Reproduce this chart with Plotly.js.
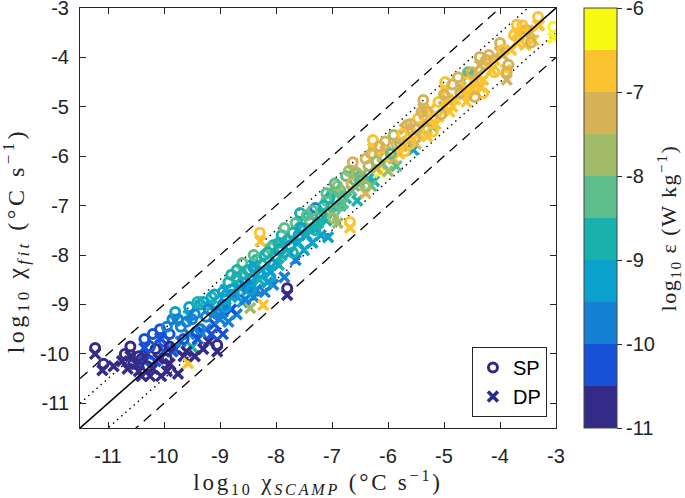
<!DOCTYPE html>
<html>
<head>
<meta charset="utf-8">
<script src="https://cdn.plot.ly/plotly-3.0.1.min.js"></script>
<style>html,body{margin:0;padding:0;background:#fff;}#chart{width:685px;height:498px;}</style>
</head>
<body>
<div id="chart"></div>
<script>
// ---- data ----
// SP : circles  (x = log10 chi_SCAMP, y = log10 chi_fit, e = log10 epsilon)
var spX = [-11.23,-11.08,-10.7,-10.6,-10.45,-10.35,-10.3,-10.15,-10.07,-10.0,-9.95,
  -9.85,-9.8,-9.7,-9.65,-9.55,-9.5,-9.42,-9.35,-9.25,-9.15,-9.05,-9.0,-8.95,
  -8.85,-8.75,-8.65,-8.6,-8.5,-8.45,-8.35,-8.29,-8.2,-8.15,-8.05,-8.0,-7.8,
  -7.9,-7.8,-7.65,-7.57,-7.5,-7.4,-7.3,-7.2,-7.1,-7.0,-6.95,-6.85,-6.68,-6.98,
  -6.75,-6.65,-6.63,-6.45,-6.35,-6.3,-6.27,-6.05,-5.9,-6.1,-5.95,
  -5.66,-5.46,-5.37,-4.98,-4.71,-4.57,-4.36,-4.0,-3.7,-3.52,-3.32,-3.05,-3.88,-4.41,-4.3,-5.2,-5.52,-5.79,
  -10.2,-9.9,-9.6,-9.3,-9.2,-8.9,-8.8,-8.7,-8.55,-8.4,-8.25,-8.1,-7.95,-7.7,-7.55,-7.35,-7.15,-7.05,-6.9,
  -6.55,-6.4,-5.75,-5.6,-5.3,-5.1,-4.85,-4.6,-4.2,-4.1,-3.75,
  -10.55,-10.25,-9.95,-9.75,-9.45,-9.4,-9.1,-9.05,-8.95,-8.8,-8.7,-8.6,-8.5,-8.4,-8.3,-8.15,-8.05,-7.95,
  -7.85,-7.75,-7.6,-7.45,-7.25,-7.1,-6.95,-6.8,-6.7,-6.5,-6.2,-6.15,-5.85,-5.7,-5.5,-5.4,-5.2,-5.0,-4.9,
  -4.75,-4.5,-4.4,-4.25,-3.95,-3.85,-3.6,-3.45,
  -10.4,-9.9,-9.35,-8.9,-8.45,-8.1,-7.7,-7.3,-6.85,-6.4,-5.6,-5.05,-4.55,-4.45];
var spY = [-9.88,-10.2,-10.0,-9.85,-10.05,-9.7,-10.25,-9.9,-9.5,-9.75,-10.1,
  -9.3,-9.15,-9.45,-9.7,-9.05,-9.3,-9.55,-9.0,-9.25,-8.85,-9.82,-9.1,-8.75,
  -8.55,-8.8,-8.6,-8.16,-8.3,-8.5,-8.1,-7.55,-8.0,-8.3,-7.8,-8.05,-8.67,
  -7.6,-7.7,-7.35,-7.15,-7.5,-7.3,-7.05,-7.2,-6.9,-6.75,-7.1,-6.7,-7.33,-7.25,
  -6.4,-6.55,-6.12,-6.45,-6.2,-5.95,-5.67,-5.7,-5.57,-6.0,-5.95,
  -5.37,-5.23,-4.86,-4.5,-4.72,-4.3,-3.99,-3.71,-3.34,-3.45,-3.18,-3.38,-4.3,-4.6,-4.72,-5.5,-5.63,-5.73,
  -9.6,-9.6,-9.35,-8.95,-9.1,-8.9,-8.4,-8.45,-8.55,-8.25,-8.2,-7.85,-7.9,-7.55,-7.45,-7.1,-7.0,-6.85,-6.6,
  -6.35,-6.05,-5.55,-5.35,-5.1,-4.9,-4.55,-4.5,-3.95,-4.3,-3.55,
  -10.2,-9.85,-9.45,-9.3,-9.2,-8.95,-8.8,-9.2,-9.0,-8.7,-8.3,-8.4,-8.65,-8.0,-8.35,-7.95,-8.2,-7.75,
  -7.45,-7.8,-7.6,-7.2,-7.35,-6.75,-6.55,-6.8,-6.3,-6.5,-6.1,-5.8,-5.75,-5.9,-5.45,-5.1,-5.25,-4.75,-4.95,
  -4.4,-4.3,-4.5,-4.05,-3.85,-4.15,-3.35,-3.7,
  -10.1,-9.85,-9.5,-9.05,-8.7,-8.45,-7.95,-7.5,-7.0,-6.6,-5.75,-5.15,-4.7,-4.8];
var spE = [-10.9,-10.9,-10.8,-10.8,-10.8,-10.3,-10.8,-10.8,-10.2,-10.3,-10.8,
  -9.8,-9.3,-9.8,-10.3,-9.2,-9.6,-10.2,-9.1,-9.6,-9.0,-10.9,-9.6,-9.1,
  -8.8,-9.4,-9.2,-8.2,-8.9,-9.2,-8.9,-6.8,-8.7,-9.3,-8.9,-9.0,-10.9,
  -8.6,-8.9,-8.3,-8.8,-9.0,-8.2,-9.7,-8.8,-8.2,-8.1,-8.5,-8.2,-6.8,-7.7,
  -8.2,-7.5,-7.2,-8.1,-7.9,-7.4,-6.8,-7.3,-7.6,-7.0,-8.2,
  -7.3,-6.8,-7.3,-6.8,-7.3,-8.1,-7.3,-7.3,-6.8,-7.3,-6.8,-6.2,-7.3,-6.8,-6.8,-6.8,-7.3,-7.7,
  -10.2,-10.3,-9.8,-9.3,-9.6,-9.4,-8.9,-8.7,-9.6,-9.3,-8.9,-8.2,-9.3,-8.8,-9.4,-8.3,-8.8,-8.7,-7.6,
  -8.0,-7.3,-6.8,-7.3,-7.2,-6.8,-7.3,-6.8,-7.3,-6.9,-6.8,
  -10.8,-10.3,-9.8,-9.6,-9.6,-9.0,-9.1,-9.7,-9.6,-9.2,-8.7,-9.0,-9.6,-8.3,-9.3,-8.8,-9.4,-8.7,
  -8.2,-9.3,-9.2,-8.5,-8.9,-8.2,-8.1,-8.5,-7.7,-8.3,-7.9,-7.2,-7.2,-7.0,-7.3,-7.3,-7.0,-7.3,-6.9,
  -7.3,-7.3,-6.8,-7.3,-6.8,-7.3,-6.8,-7.3,
  -10.8,-10.8,-9.7,-9.3,-9.3,-9.5,-9.0,-8.6,-8.3,-7.8,-6.9,-7.3,-6.8,-7.3];

// DP : crosses
var dpX = [-11.23,-11.1,-10.75,-10.65,-10.5,-10.4,-10.3,-10.2,-10.15,-10.05,-10.0,-9.9,-9.8,-9.75,-9.65,
  -9.57,-9.5,-9.45,-9.4,-9.3,-9.25,-9.2,-9.1,-9.05,-9.0,-8.95,
  -8.9,-8.85,-8.8,-8.7,-8.6,-8.46,-8.5,-8.4,-8.3,-8.23,-8.2,-8.1,-8.05,-7.95,-7.8,-7.85,
  -7.75,-7.65,-7.6,-7.5,-7.45,-7.35,-7.3,-7.2,-7.1,-7.07,-7.0,-6.9,-6.85,-6.68,-6.75,
  -6.65,-6.55,-6.5,-6.4,-6.35,-6.25,-6.14,-6.1,-6.0,-5.95,-5.85,-5.55,
  -5.75,-5.6,-5.5,-5.4,-5.3,-5.2,-5.1,-5.0,-4.9,
  -4.8,-4.7,-4.6,-4.57,-4.5,-4.4,-4.3,-4.2,-4.1,-3.88,-3.95,-3.8,-3.65,-3.55,-3.45,-3.3,-3.05,
  -10.9,-10.6,-10.45,-10.35,-10.25,-10.1,-9.95,-9.85,-9.7,-9.6,-9.55,-9.35,-9.15,-9.1,-8.95,-8.8,-8.75,
  -8.65,-8.55,-8.45,-8.35,-8.25,-8.15,-8.0,-7.9,-7.7,-7.55,-7.4,-7.25,-7.15,-6.95,-6.8,-6.6,-6.45,-6.3,
  -6.2,-5.9,-5.8,-5.65,-5.45,-5.35,-5.15,-4.95,-4.85,-4.65,-4.45,-4.35,-4.15,-4.0,-3.9,-3.7,-3.5,-3.4,
  -8.28,-10.35,-9.8,-8.6,-7.57,-6.63,-6.27,-4.98,-4.36,-4.0,-3.7,-3.32,-5.37,-9.15,-10.07,-9.55,
  -8.9,-8.4,-7.9,-7.4,-6.95,-6.6,-6.05,-5.7,-5.25];
var dpY = [-10.0,-10.33,-10.15,-10.3,-10.2,-10.45,-10.0,-10.3,-10.15,-10.45,-9.95,-10.2,-9.9,-10.4,-10.05,
  -10.19,-9.86,-10.05,-9.7,-9.9,-9.5,-9.75,-9.4,-9.95,-9.3,-9.6,
  -9.05,-9.35,-8.85,-9.2,-8.95,-9.07,-8.7,-8.85,-8.5,-9.01,-8.75,-8.35,-8.6,-8.2,-8.81,-8.45,
  -7.95,-8.1,-7.75,-7.9,-7.6,-7.75,-7.45,-7.6,-7.3,-7.64,-7.15,-7.35,-7.0,-7.45,-6.85,
  -6.7,-6.9,-6.55,-6.75,-6.45,-6.5,-6.32,-6.15,-6.3,-6.0,-6.2,-5.87,
  -5.8,-5.6,-5.75,-5.45,-5.6,-5.41,-5.2,-5.0,-5.1,
  -4.85,-4.6,-4.9,-4.36,-4.65,-4.35,-4.45,-4.15,-4.05,-4.45,-3.95,-3.85,-3.55,-3.75,-3.5,-3.35,-3.6,
  -10.25,-10.05,-10.35,-10.15,-10.45,-10.1,-10.35,-9.95,-9.75,-9.95,-9.6,-9.55,-9.6,-9.15,-9.15,-9.1,-8.8,
  -8.65,-8.9,-8.55,-8.7,-8.3,-8.55,-8.15,-8.0,-7.7,-7.55,-7.45,-7.35,-7.1,-7.0,-6.95,-6.6,-6.35,-6.6,
  -6.25,-6.05,-5.95,-5.7,-5.55,-5.3,-5.35,-4.85,-5.0,-4.75,-4.5,-4.6,-4.25,-3.9,-4.25,-3.7,-3.45,-3.65,
  -7.72,-9.88,-9.33,-8.33,-7.32,-6.3,-5.85,-4.68,-4.16,-3.88,-3.52,-3.35,-5.04,-9.02,-9.68,-9.22,
  -8.7,-8.2,-7.75,-7.2,-6.75,-6.4,-5.9,-5.45,-5.05];
var dpE = [-10.9,-10.9,-10.8,-10.8,-10.8,-10.8,-10.8,-10.8,-10.3,-10.8,-10.2,-10.8,-10.3,-10.8,-10.8,
  -6.8,-9.0,-10.8,-10.3,-10.8,-9.8,-10.8,-10.3,-10.9,-9.8,-10.3,
  -9.6,-9.8,-9.1,-9.6,-9.4,-7.7,-9.3,-9.8,-9.0,-6.8,-9.6,-9.3,-9.6,-8.6,-10.9,-9.7,
  -9.3,-9.6,-8.9,-9.4,-9.1,-9.5,-8.8,-9.2,-8.6,-9.3,-8.3,-7.7,-9.0,-6.8,-8.7,
  -8.2,-8.9,-8.0,-7.2,-8.6,-8.8,-6.2,-8.2,-7.6,-7.0,-8.1,-9.4,
  -7.3,-6.9,-7.1,-7.3,-6.8,-8.1,-7.0,-7.6,-6.8,
  -6.9,-7.2,-6.8,-8.1,-6.9,-7.2,-6.8,-7.0,-6.9,-7.3,-7.2,-6.9,-6.8,-6.8,-7.1,-6.8,-6.2,
  -10.9,-10.8,-10.8,-10.3,-10.8,-10.8,-10.8,-10.2,-9.8,-10.8,-9.8,-9.6,-10.2,-9.7,-9.6,-10.2,-9.6,
  -9.3,-9.7,-9.4,-9.7,-9.2,-9.5,-9.3,-9.0,-9.2,-8.8,-9.3,-8.6,-8.3,-8.7,-8.3,-8.1,-7.8,-8.3,
  -7.4,-7.2,-6.8,-7.3,-6.8,-7.2,-6.9,-7.3,-6.8,-6.9,-7.3,-6.8,-6.9,-7.3,-6.8,-7.0,-6.8,-6.9,
  -6.8,-10.3,-9.3,-8.2,-8.8,-7.2,-6.8,-6.8,-7.3,-7.3,-6.8,-6.8,-7.3,-9.0,-10.2,-9.2,
  -9.3,-9.1,-8.9,-8.7,-8.4,-8.2,-7.5,-7.3,-7.0];

// discrete colour levels of the colour bar (bottom to top, -11 ... -6 in steps of 0.5)
var levelColors = ['#342b88','#1552d8','#1581d5','#0aa1cc','#1ab1ad','#5dbe8b','#a1bb68','#d8b257','#fbc32f','#f8f912'];
var epsMin = -11, epsMax = -6;
var tickVals = [-11,-10,-9,-8,-7,-6,-5,-4,-3];
var tickText = ['-11','-10','-9','-8','-7','-6','-5','-4','-3'];
var cbTickVals = [-11,-10,-9,-8,-7,-6];
var cbTickText = ['-11','-10','-9','-8','-7','-6'];
var axisRange = [-11.5, -3];
var refOffsets = {solid: 0, dotted: 0.5, dashed: 1};

// ---- build ----
var colorscale = [];
for (var i = 0; i < levelColors.length; i++) {
  colorscale.push([i / levelColors.length, levelColors[i]]);
  colorscale.push([(i + 1) / levelColors.length, levelColors[i]]);
}
function offsetLine(off, dash, w) {
  return {x: axisRange.slice(), y: [axisRange[0] + off, axisRange[1] + off], mode: 'lines',
    line: {color: '#000', width: w, dash: dash}, hoverinfo: 'skip', showlegend: false};
}
var serif = 'Liberation Serif, Times New Roman, serif';
var sans = 'Liberation Sans, Arial, sans-serif';
var traces = [
  offsetLine(refOffsets.dashed, '10px,7px', 1.3), offsetLine(-refOffsets.dashed, '10px,7px', 1.3),
  offsetLine(refOffsets.dotted, '1.5px,4px', 1.4), offsetLine(-refOffsets.dotted, '1.5px,4px', 1.4),
  {x: dpX, y: dpY, mode: 'markers', type: 'scatter', showlegend: false,
   marker: {symbol: 'x-thin-open', size: 10, color: dpE, cmin: epsMin, cmax: epsMax, colorscale: colorscale,
            line: {width: 3.5, color: dpE, cmin: epsMin, cmax: epsMax, colorscale: colorscale}}},
  {x: spX, y: spY, mode: 'markers', type: 'scatter', showlegend: false,
   marker: {symbol: 'circle-open', size: 9, color: spE, cmin: epsMin, cmax: epsMax, colorscale: colorscale,
            line: {width: 3},
            showscale: true,
            colorbar: {x: 1.059, xanchor: 'left', y: 0, yanchor: 'bottom', len: 1, lenmode: 'fraction',
                       thickness: 33, thicknessmode: 'pixels', outlinecolor: '#444', outlinewidth: 1,
                       ypad: 0, xpad: 0, tickmode: 'array', tickvals: cbTickVals, ticktext: cbTickText,
                       ticks: 'outside', ticklen: 5, tickcolor: '#333', ticklabeloverflow: 'allow',
                       tickfont: {family: sans, size: 20, color: '#222'}}}},
  offsetLine(refOffsets.solid, 'solid', 1.6),
  {x: [null], y: [null], mode: 'markers', name: 'SP',
   marker: {symbol: 'circle-open', size: 9, color: '#2e2a8c', line: {width: 3}}},
  {x: [null], y: [null], mode: 'markers', name: 'DP',
   marker: {symbol: 'x-thin-open', size: 10, color: '#2e2a8c', line: {width: 3.5, color: '#2e2a8c'}}}
];

var axisCommon = {
  range: axisRange, tickmode: 'array', tickvals: tickVals, ticktext: tickText,
  ticks: 'inside', ticklen: 6, tickcolor: '#262626', showline: true, linecolor: '#262626', linewidth: 1,
  mirror: 'ticks', showgrid: false, zeroline: false, ticklabeloverflow: 'allow',
  tickfont: {family: sans, size: 20, color: '#222'}
};
var layout = {
  width: 685, height: 498,
  margin: {l: 80, r: 129, t: 8, b: 70, pad: 0},
  paper_bgcolor: '#fff', plot_bgcolor: '#fff',
  xaxis: Object.assign({}, axisCommon, {ticklabelstandoff: 10,
    title: {text: '<span style="letter-spacing:2.8px">log<sub>10</sub> χ<sub><i>SCAMP</i></sub> (°C s<sup>−1</sup>)</span>', standoff: 4,
            font: {family: serif, size: 23, color: '#222'}}}),
  yaxis: Object.assign({}, axisCommon, {ticklabelstandoff: 6}),
  annotations: [
    {xref: 'paper', yref: 'paper', x: -0.134, y: 0.445, xanchor: 'center', yanchor: 'middle',
     textangle: -90, showarrow: false,
     text: '<span style="letter-spacing:3.5px">log<sub>10</sub> χ<sub><i>fit</i></sub> (°C s<sup>−1</sup>)</span>',
     font: {family: serif, size: 24, color: '#222'}},
    {xref: 'paper', yref: 'paper', x: 1.236, y: 0.476, xanchor: 'center', yanchor: 'middle',
     textangle: -90, showarrow: false,
     text: '<span style="letter-spacing:1.5px">log<sub>10</sub> ε (W kg<sup>−1</sup>)</span>',
     font: {family: serif, size: 22, color: '#222'}}],
  showlegend: true,
  legend: {x: 0.981, xanchor: 'right', y: 0.026, yanchor: 'bottom', bgcolor: '#fff',
           bordercolor: '#262626', borderwidth: 1, itemwidth: 30,
           font: {family: sans, size: 20, color: '#000'}}
};
Plotly.newPlot('chart', traces, layout, {staticPlot: true, displayModeBar: false});
</script>
</body>
</html>
